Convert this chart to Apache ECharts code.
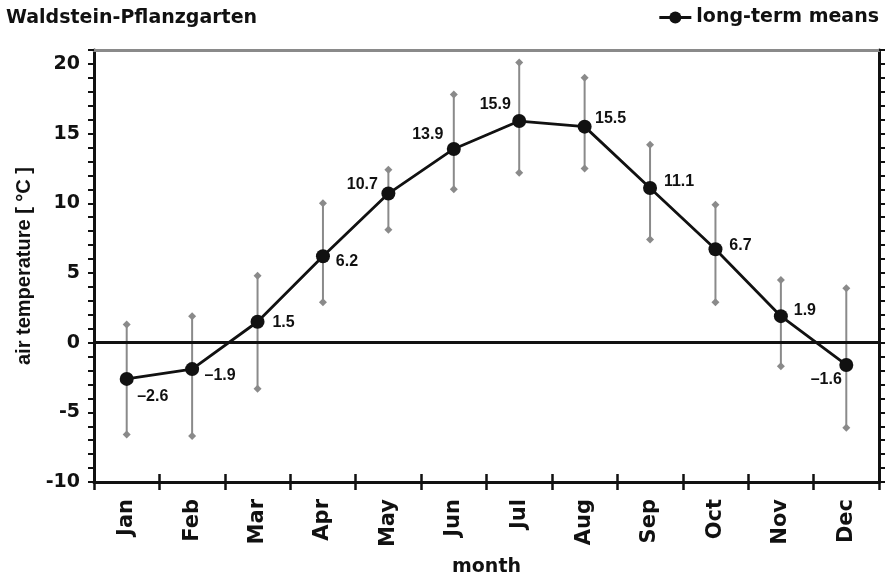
<!DOCTYPE html>
<html>
<head>
<meta charset="utf-8">
<script src="https://cdn.jsdelivr.net/npm/echarts@6/dist/echarts.min.js"></script>
<style>
  html, body { margin: 0; padding: 0; background: #fff; }
  #chart { width: 887px; height: 576px; }
</style>
</head>
<body>
<div id="chart"></div>
<script>
// Monthly air temperature, long-term means with spread (°C)
const months = ['Jan', 'Feb', 'Mar', 'Apr', 'May', 'Jun', 'Jul', 'Aug', 'Sep', 'Oct', 'Nov', 'Dec'];
const meanTemp = [-2.6, -1.9, 1.5, 6.2, 10.7, 13.9, 15.9, 15.5, 11.1, 6.7, 1.9, -1.6];
const lowTemp = [-6.6, -6.7, -3.3, 2.9, 8.1, 11.0, 12.2, 12.5, 7.4, 2.9, -1.7, -6.1];
const highTemp = [1.3, 1.9, 4.8, 10.0, 12.4, 17.8, 20.1, 19.0, 14.2, 9.9, 4.5, 3.9];

// Value-label placement around each point (pixels, relative to the point centre)
const labelOffsets = [[26, 18], [28, 6], [26, 1], [24, 5], [-26, -9], [-26, -14],
                      [-24, -16], [26, -8], [29, -6], [25, -4], [24, -6], [-20, 15]];

const INK = '#111';
const GREY = '#8a8a8a';
const WIDE = 'DejaVu Sans';
const NARROW = 'Liberation Sans';

const chart = echarts.init(document.getElementById('chart'), null, { renderer: 'canvas' });

const errorData = months.map((m, i) => [i, lowTemp[i], highTemp[i]]);

function diamond(p, d) {
  return [[p[0], p[1] - d], [p[0] + d, p[1]], [p[0], p[1] + d], [p[0] - d, p[1]]];
}

chart.setOption({
  animation: false,
  backgroundColor: '#fff',
  title: {
    text: 'Waldstein-Pflanzgarten',
    left: 6, top: 9, padding: 0,
    textStyle: { fontFamily: WIDE, fontWeight: 'bold', fontSize: 19, color: INK }
  },
  legend: {
    data: ['long-term means'],
    right: 8, top: 8, padding: 0,
    itemWidth: 32, itemHeight: 15, itemGap: 6,
    lineStyle: { width: 3 },
    textStyle: { fontFamily: WIDE, fontWeight: 'bold', fontSize: 19, color: INK }
  },
  grid: { left: 94, right: 8, top: 50, bottom: 94, containLabel: false, outerBoundsMode: 'none' },
  xAxis: [
    {
      type: 'category', data: months, position: 'bottom', boundaryGap: true,
      axisLine: { onZero: false, lineStyle: { color: INK, width: 3 } },
      axisTick: { show: true, interval: 0, length: 8, lineStyle: { color: INK, width: 2.5 } },
      axisLabel: { interval: 0, rotate: 90, margin: 17, fontFamily: WIDE, fontWeight: 'bold', fontSize: 21, color: INK },
      splitLine: { show: false },
      name: 'month', nameLocation: 'middle', nameGap: 76,
      nameTextStyle: { fontFamily: WIDE, fontWeight: 'bold', fontSize: 19, color: INK }
    },
    {
      type: 'category', data: months, position: 'bottom', boundaryGap: true,
      axisLine: { show: false, onZero: false },
      axisTick: { show: true, inside: true, interval: 0, length: 8, lineStyle: { color: INK, width: 2.5 } },
      axisLabel: { show: false },
      splitLine: { show: false }
    },
    {
      type: 'category', data: months, position: 'top', boundaryGap: true,
      axisLine: { onZero: false, lineStyle: { color: GREY, width: 3 } },
      axisTick: { show: false },
      axisLabel: { show: false },
      splitLine: { show: false }
    }
  ],
  yAxis: [
    {
      type: 'value', position: 'left', min: -10, max: 21, interval: 1,
      axisLine: { show: true, onZero: false, lineStyle: { color: INK, width: 3 } },
      axisTick: { show: true, length: 6, lineStyle: { color: INK, width: 2 } },
      axisLabel: {
        margin: 14, fontFamily: WIDE, fontWeight: 'bold', fontSize: 19, color: INK,
        formatter: v => (v % 5 === 0 ? String(v) : '')
      },
      splitLine: { show: false },
      name: 'air temperature [ °C ]', nameLocation: 'middle', nameGap: 57,
      nameTextStyle: { fontFamily: NARROW, fontWeight: 'bold', fontSize: 20, color: INK }
    },
    {
      type: 'value', position: 'right', min: -10, max: 21, interval: 1,
      axisLine: { show: true, onZero: false, lineStyle: { color: INK, width: 3 } },
      axisTick: { show: true, length: 6, lineStyle: { color: INK, width: 2 } },
      axisLabel: { show: false },
      splitLine: { show: false }
    }
  ],
  series: [
    {
      name: 'spread',
      type: 'custom',
      xAxisIndex: 0, yAxisIndex: 0,
      z: 2,
      encode: { x: 0, y: [1, 2] },
      data: errorData,
      renderItem(params, api) {
        const i = api.value(0);
        const lo = api.coord([i, api.value(1)]);
        const hi = api.coord([i, api.value(2)]);
        return {
          type: 'group',
          children: [
            { type: 'line', shape: { x1: lo[0], y1: lo[1], x2: hi[0], y2: hi[1] },
              style: { stroke: GREY, lineWidth: 2 } },
            { type: 'polygon', shape: { points: diamond(hi, 4) }, style: { fill: GREY } },
            { type: 'polygon', shape: { points: diamond(lo, 4) }, style: { fill: GREY } }
          ]
        };
      }
    },
    {
      name: 'long-term means',
      type: 'line',
      xAxisIndex: 0, yAxisIndex: 0,
      z: 4,
      symbol: 'circle', symbolSize: 14,
      lineStyle: { color: INK, width: 2.8 },
      itemStyle: { color: INK },
      label: {
        show: true, position: 'inside',
        fontFamily: NARROW, fontWeight: 'bold', fontSize: 16, color: INK,
        formatter: p => String(p.value).replace('-', '\u2013')
      },
      data: meanTemp.map((v, i) => ({
        value: v,
        label: { position: 'inside', offset: labelOffsets[i] }
      })),
      markLine: {
        silent: true, symbol: ['none', 'none'],
        label: { show: false },
        lineStyle: { color: INK, width: 3, type: 'solid' },
        data: [{ yAxis: 0 }]
      }
    }
  ]
});
</script>
</body>
</html>
